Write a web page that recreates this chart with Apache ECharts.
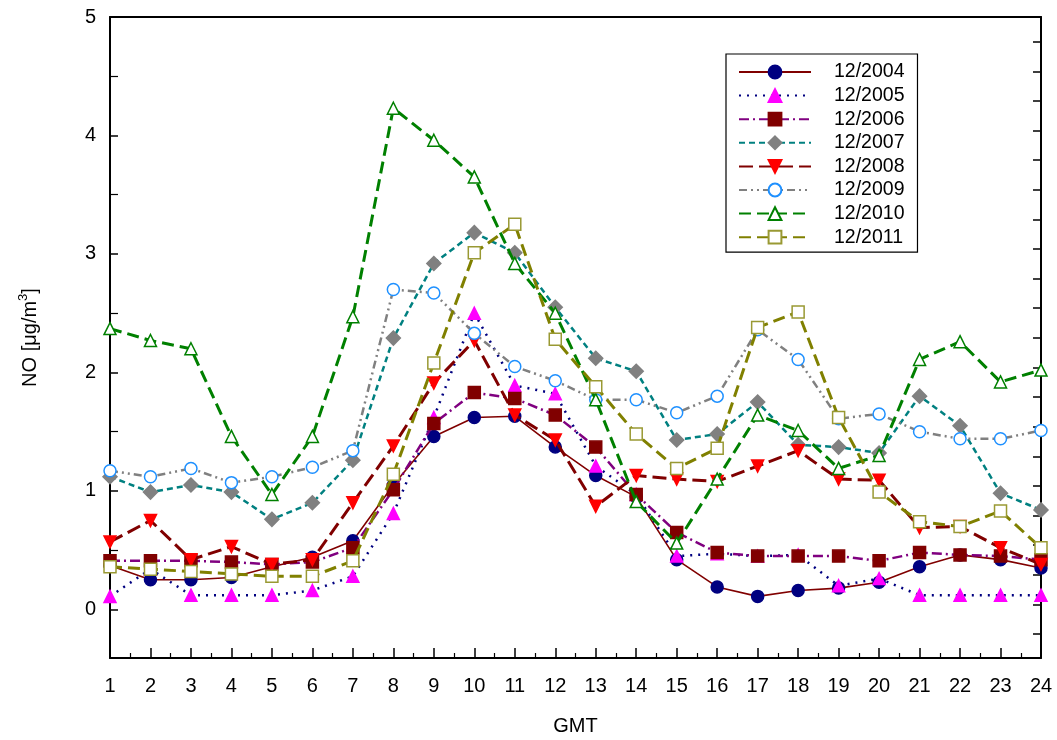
<!DOCTYPE html>
<html>
<head>
<meta charset="utf-8">
<script src="https://cdn.jsdelivr.net/npm/echarts@6/dist/echarts.min.js"></script>
<style>
  html, body { margin: 0; padding: 0; background: #fff; }
  #chart { width: 1057px; height: 740px; }
</style>
</head>
<body>
<div id="chart"></div>
<script>
// Hourly mean NO concentration (μg/m³) for December of each year, by GMT hour
const hours = [1, 2, 3, 4, 5, 6, 7, 8, 9, 10, 11, 12, 13, 14, 15, 16, 17, 18, 19, 20, 21, 22, 23, 24];
const seriesNames = ['12/2004', '12/2005', '12/2006', '12/2007', '12/2008', '12/2009', '12/2010', '12/2011'];

const no2004 = [0.37, 0.25, 0.25, 0.27, 0.36, 0.44, 0.58, 1.05, 1.46, 1.62, 1.63, 1.37, 1.13, 0.95, 0.42, 0.19, 0.11, 0.16, 0.18, 0.23, 0.36, 0.46, 0.42, 0.35];
const no2005 = [0.11, 0.34, 0.12, 0.12, 0.12, 0.16, 0.28, 0.81, 1.62, 2.50, 1.89, 1.82, 1.21, 0.97, 0.45, 0.47, 0.45, 0.46, 0.20, 0.26, 0.12, 0.12, 0.12, 0.12];
const no2006 = [0.41, 0.41, 0.41, 0.40, 0.38, 0.40, 0.52, 1.01, 1.57, 1.83, 1.78, 1.64, 1.37, 0.97, 0.65, 0.48, 0.45, 0.45, 0.45, 0.41, 0.48, 0.46, 0.45, 0.42];
const no2007 = [1.12, 0.99, 1.05, 0.99, 0.76, 0.90, 1.26, 2.29, 2.92, 3.18, 3.01, 2.55, 2.12, 2.01, 1.43, 1.48, 1.75, 1.39, 1.37, 1.32, 1.80, 1.55, 0.98, 0.84];
const no2008 = [0.57, 0.75, 0.42, 0.53, 0.38, 0.42, 0.90, 1.38, 1.91, 2.27, 1.64, 1.43, 0.87, 1.13, 1.10, 1.08, 1.21, 1.34, 1.10, 1.09, 0.69, 0.70, 0.52, 0.38];
const no2009 = [1.17, 1.12, 1.19, 1.07, 1.12, 1.20, 1.34, 2.70, 2.67, 2.33, 2.05, 1.93, 1.77, 1.77, 1.66, 1.80, 2.36, 2.11, 1.61, 1.65, 1.50, 1.44, 1.44, 1.51];
const no2010 = [2.37, 2.27, 2.20, 1.46, 0.97, 1.46, 2.47, 4.23, 3.96, 3.65, 2.92, 2.50, 1.77, 0.91, 0.56, 1.10, 1.64, 1.51, 1.19, 1.30, 2.11, 2.26, 1.92, 2.02];
const no2011 = [0.36, 0.34, 0.32, 0.30, 0.28, 0.28, 0.41, 1.14, 2.08, 3.01, 3.25, 2.28, 1.88, 1.48, 1.19, 1.36, 2.38, 2.51, 1.62, 0.99, 0.74, 0.70, 0.83, 0.52];

const yMin = -0.41;
const yMax = 5;

// Marker and line appearance for each year
const styles = [
  { symbol: 'circle',   size: 12, fill: '#000080', border: '#000080', line: '#800000', width: 1.6, dash: 'solid' },
  { symbol: 'triangle', size: 12, fill: '#ff00ff', border: '#ff00ff', line: '#000080', width: 2.5, dash: [2, 6] },
  { symbol: 'rect',     size: 12, fill: '#800000', border: '#800000', line: '#800080', width: 2.5, dash: [10, 4, 2, 4] },
  { symbol: 'diamond',  size: 14, fill: '#808080', border: '#808080', line: '#008080', width: 2.5, dash: [6, 4] },
  { symbol: 'triangle', size: 12, fill: '#ff0000', border: '#ff0000', line: '#800000', width: 3,   dash: [14, 6], rotate: 180 },
  { symbol: 'circle',   size: 12, fill: '#ffffff', border: '#1e90ff', line: '#808080', width: 2.5, dash: [8, 4, 2, 4, 2, 4] },
  { symbol: 'triangle', size: 12, fill: '#ffffff', border: '#008000', line: '#008000', width: 3,   dash: [12, 6] },
  { symbol: 'rect',     size: 12, fill: '#ffffff', border: '#999933', line: '#808000', width: 3,   dash: [12, 6] }
];

const values = [no2004, no2005, no2006, no2007, no2008, no2009, no2010, no2011];

const series = values.map((vals, i) => {
  const s = styles[i];
  return {
    name: seriesNames[i],
    type: 'line',
    xAxisIndex: 0,
    yAxisIndex: 0,
    data: hours.map((h, k) => [h, vals[k]]),
    symbol: s.symbol,
    symbolSize: s.size,
    symbolRotate: s.rotate || 0,
    showSymbol: true,
    lineStyle: { color: s.line, width: s.width, type: s.dash, cap: 'butt' },
    itemStyle: { color: s.fill, borderColor: s.border, borderWidth: 1.5 },
    emphasis: { disabled: true },
    z: 2 + i
  };
});

const font = 'Liberation Sans, Arial, sans-serif';
const frame = { show: true, onZero: false, lineStyle: { color: '#000', width: 2 } };

// The right-hand frame axis carries quarter-unit ticks; its scale is four
// times the main scale, shifted so its integer ticks sit at the mark positions.
const rightShift = 0.208;

const chart = echarts.init(document.getElementById('chart'), null, { renderer: 'canvas' });
chart.setOption({
  animation: false,
  backgroundColor: '#fff',
  grid: { left: 110, right: 16, top: 17, bottom: 82, containLabel: false, outerBoundsMode: 'none' },
  legend: {
    orient: 'vertical',
    left: 726,
    top: 54,
    data: seriesNames,
    itemWidth: 72,
    itemHeight: 16,
    itemGap: 3.6,
    padding: [8, 13, 5, 12],
    backgroundColor: '#fff',
    borderColor: '#000',
    borderWidth: 1.2,
    borderRadius: 0,
    textStyle: { fontFamily: font, fontSize: 19.5, color: '#000', lineHeight: 20, padding: [0, 0, 0, 18] }
  },
  xAxis: [
    {
      type: 'value',
      position: 'bottom',
      min: 1,
      max: 24,
      interval: 1,
      name: 'GMT',
      nameLocation: 'middle',
      nameGap: 58,
      nameTextStyle: { fontFamily: font, fontSize: 20, color: '#000' },
      axisLine: frame,
      axisTick: { show: true, inside: true, length: 10, lineStyle: { color: '#000', width: 1.5 } },
      minorTick: { show: true, splitNumber: 2, length: 5, lineStyle: { color: '#000', width: 1.2 } },
      axisLabel: { fontFamily: font, fontSize: 20, color: '#000', margin: 18 },
      splitLine: { show: false }
    },
    {
      type: 'value',
      position: 'top',
      min: 1,
      max: 24,
      interval: 1,
      axisLine: frame,
      axisTick: { show: false },
      axisLabel: { show: false },
      splitLine: { show: false }
    }
  ],
  yAxis: [
    {
      type: 'value',
      position: 'left',
      min: yMin,
      max: yMax,
      splitNumber: 5,
      name: 'NO [μg/m{sup|3}]',
      nameLocation: 'middle',
      nameGap: 67,
      nameTextStyle: {
        fontFamily: font, fontSize: 20, color: '#000', lineHeight: 26,
        rich: { sup: { fontFamily: font, fontSize: 13, color: '#000', verticalAlign: 'top', lineHeight: 14 } }
      },
      axisLine: frame,
      axisTick: { show: true, inside: true, length: 8, lineStyle: { color: '#000', width: 1.5 } },
      minorTick: { show: true, splitNumber: 2, length: 8, lineStyle: { color: '#000', width: 1.2 } },
      axisLabel: { fontFamily: font, fontSize: 20, color: '#000', margin: 14, showMinLabel: false },
      splitLine: { show: false }
    },
    {
      type: 'value',
      position: 'right',
      min: 4 * (yMin + rightShift),
      max: 4 * (yMax + rightShift),
      splitNumber: 21,
      axisLine: frame,
      axisTick: { show: true, inside: true, length: 8, lineStyle: { color: '#000', width: 1.5 } },
      axisLabel: { show: false },
      splitLine: { show: false }
    }
  ],
  series: series
});
</script>
</body>
</html>
